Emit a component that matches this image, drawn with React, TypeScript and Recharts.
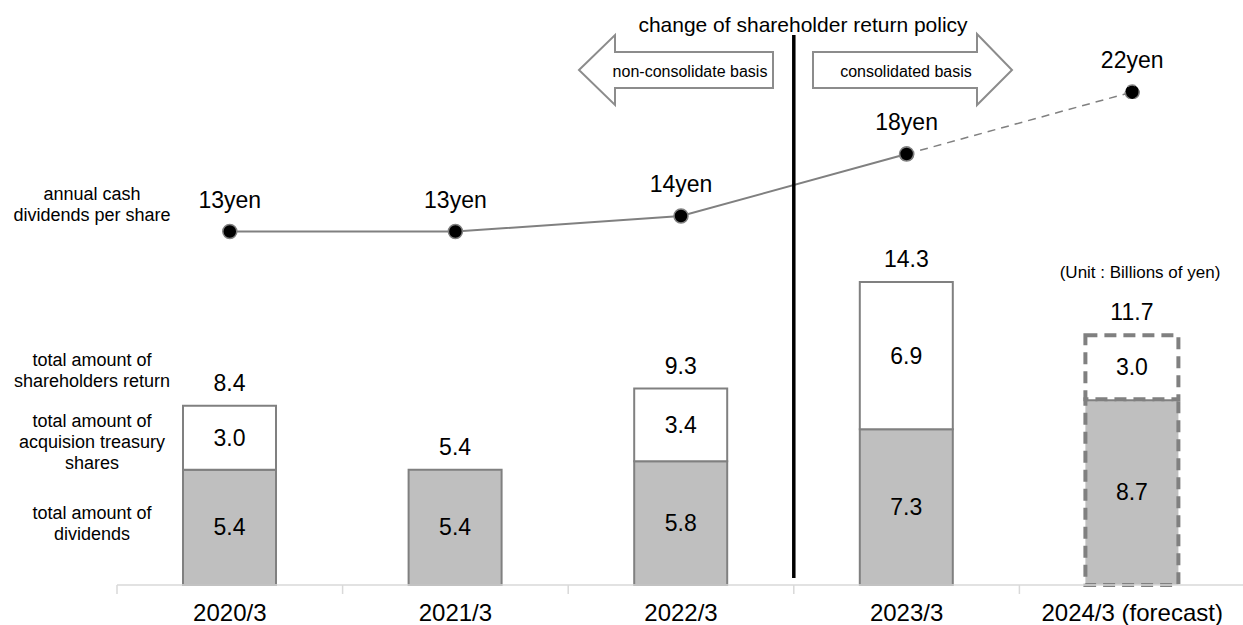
import { ComposedChart, Bar, Line, XAxis, YAxis, Cell, LabelList } from 'recharts'

const categories = ['2020/3', '2021/3', '2022/3', '2023/3', '2024/3 (forecast)']
const dividends = [5.4, 5.4, 5.8, 7.3, 8.7]
const buybacks = [3.0, 0, 3.4, 6.9, 3.0]
const totals = [8.4, 5.4, 9.3, 14.3, 11.7]
const dps = [13, 13, 14, 18, 22]
const FORECAST = 4
const POLICY_CHANGE = 3 // boundary before 2023/3

const data = categories.map((name, i) => ({
  name,
  dividends: dividends[i],
  buybacks: buybacks[i],
  solid: i < FORECAST ? dps[i] : null,
  dashed: i >= FORECAST - 1 ? dps[i] : null,
}))

const CHART_W = 1245
const CHART_H = 625
const MARGIN = { top: 30, right: 0, left: 117, bottom: 0 }
const BAND = (CHART_W - MARGIN.left - MARGIN.right) / categories.length
const FONT = '"Liberation Sans", Arial, sans-serif'
const GRAY = '#808080'

function YearTick({ x, y, payload }: any) {
  const left = x - BAND / 2
  return (
    <g>
      <line x1={left} x2={left} y1={y} y2={y + 9} stroke="#d9d9d9" strokeWidth={1.5} />
      <text x={x} y={y + 28} dy="0.35em" textAnchor="middle" fontSize={24} fill="#000" fontFamily={FONT}>
        {payload.value}
      </text>
    </g>
  )
}

const insideLabel = (props: any) => {
  const { x, y, width, height, value } = props
  if (!value) return null
  return (
    <text x={x + width / 2} y={y + height / 2} dy="0.35em" textAnchor="middle" fontSize={23} fill="#000" fontFamily={FONT}>
      {Number(value).toFixed(1)}
    </text>
  )
}

// total sits above the stack; the buyback height is scaled off the dividend bar
const totalLabel = (props: any) => {
  const { x, y, width, height, index } = props
  const top = y - height * (buybacks[index] / dividends[index])
  return (
    <text x={x + width / 2} y={top - 23} dy="0.35em" textAnchor="middle" fontSize={23} fill="#000" fontFamily={FONT}>
      {totals[index].toFixed(1)}
    </text>
  )
}

const yenLabel = (show: (i: number) => boolean) => (props: any) => {
  const { x, y, index } = props
  if (!show(index)) return null
  return (
    <text x={x} y={y - 32} dy="0.35em" textAnchor="middle" fontSize={23} fill="#000" fontFamily={FONT}>
      {dps[index]}yen
    </text>
  )
}

const sideText = (lines: string[], cy: number) => {
  const top = cy - ((lines.length - 1) * 21) / 2
  return lines.map((l, i) => (
    <text key={l} x={92} y={top + i * 21} dy="0.35em" textAnchor="middle" fontSize={18}>
      {l}
    </text>
  ))
}

const cells = () =>
  data.map((_, i) => (
    <Cell key={i} strokeDasharray={i === FORECAST ? '12 7' : undefined} strokeWidth={i === FORECAST ? 4 : 2} />
  ))

export default function App() {
  const policyX = MARGIN.left + POLICY_CHANGE * BAND
  return (
    <div style={{ position: 'relative', width: 1243, height: CHART_H, overflow: 'hidden', fontFamily: FONT }}>
      <style>{`body{margin:0}`}</style>
      <ComposedChart width={CHART_W} height={CHART_H} data={data} margin={MARGIN}>
        <XAxis
          dataKey="name"
          height={40}
          axisLine={{ stroke: '#d9d9d9', strokeWidth: 1.5 }}
          tickLine={false}
          tickSize={0}
          tickMargin={0}
          tick={<YearTick />}
          interval={0}
        />
        <YAxis yAxisId="bar" domain={[0, 26]} hide />
        <YAxis yAxisId="dps" domain={[-9.8, 26]} hide />
        <Bar dataKey="dividends" stackId="a" yAxisId="bar" barSize={93} fill="#bfbfbf" stroke={GRAY} strokeWidth={2} isAnimationActive={false}>
          {cells()}
          <LabelList dataKey="dividends" content={insideLabel} />
          <LabelList dataKey="dividends" content={totalLabel} />
        </Bar>
        <Bar dataKey="buybacks" stackId="a" yAxisId="bar" barSize={93} fill="#ffffff" stroke={GRAY} strokeWidth={2} isAnimationActive={false}>
          {cells()}
          <LabelList dataKey="buybacks" content={insideLabel} />
        </Bar>
        <Line
          dataKey="dashed"
          yAxisId="dps"
          stroke={GRAY}
          strokeWidth={1.5}
          strokeDasharray="8 6"
          dot={{ r: 7, fill: '#000', stroke: GRAY, strokeWidth: 1.5 }}
          isAnimationActive={false}
        >
          <LabelList dataKey="dashed" content={yenLabel((i) => i === FORECAST)} />
        </Line>
        <Line
          dataKey="solid"
          yAxisId="dps"
          stroke={GRAY}
          strokeWidth={2}
          dot={{ r: 7, fill: '#000', stroke: GRAY, strokeWidth: 1.5 }}
          isAnimationActive={false}
        >
          <LabelList dataKey="solid" content={yenLabel((i) => i < FORECAST)} />
        </Line>
      </ComposedChart>
      <svg width={1243} height={CHART_H} style={{ position: 'absolute', left: 0, top: 0, pointerEvents: 'none' }} fontFamily={FONT}>
        <line x1={policyX} x2={policyX} y1={35} y2={578} stroke="#000" strokeWidth={3.5} />
        <text x={803} y={32} textAnchor="middle" fontSize={21}>change of shareholder return policy</text>
        <polygon points="579,70 615,35 615,52 773,52 773,88 615,88 615,105" fill="#fff" stroke="#8c8c8c" strokeWidth={2} />
        <polygon points="813,52 977,52 977,34 1012,70 977,105 977,88 813,88" fill="#fff" stroke="#8c8c8c" strokeWidth={2} />
        <text x={690} y={71} dy="0.35em" textAnchor="middle" fontSize={16}>non-consolidate basis</text>
        <text x={906} y={71} dy="0.35em" textAnchor="middle" fontSize={16}>consolidated basis</text>
        <text x={1140} y={272} dy="0.35em" textAnchor="middle" fontSize={17}>(Unit : Billions of yen)</text>
        {sideText(['annual cash', 'dividends per share'], 204)}
        {sideText(['total amount of', 'shareholders return'], 370)}
        {sideText(['total amount of', 'acquision treasury', 'shares'], 442)}
        {sideText(['total amount of', 'dividends'], 523)}
      </svg>
    </div>
  )
}
